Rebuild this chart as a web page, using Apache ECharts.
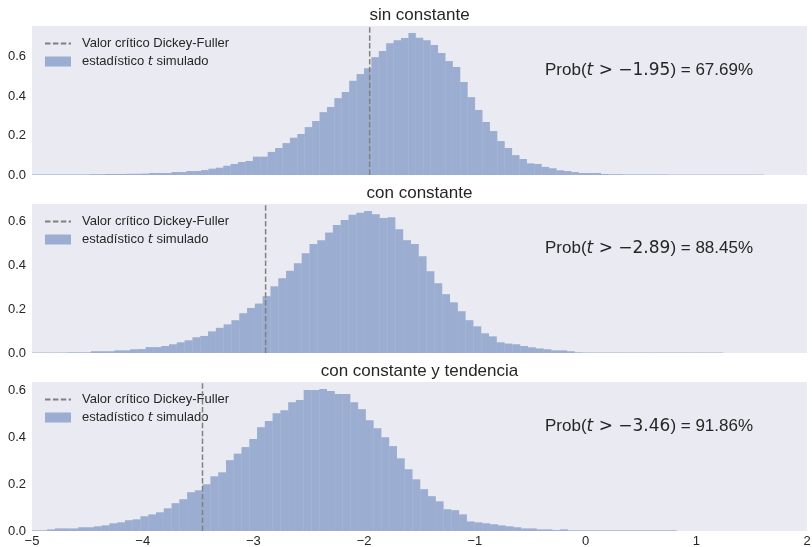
<!DOCTYPE html>
<html>
<head>
<meta charset="utf-8">
<script src="https://cdn.jsdelivr.net/npm/echarts@6.0.0/dist/echarts.min.js"></script>
<style>
  html, body { margin: 0; padding: 0; background: #fff; }
  #main { width: 812px; height: 547px; }
</style>
</head>
<body>
<div id="main"></div>
<script>
// ---- datos ----
var xTicks = [-5, -4, -3, -2, -1, 0, 1, 2];
var yTicks = [0, 0.2, 0.4, 0.6];
var titles = ["sin constante", "con constante", "con constante y tendencia"];
var criticalValues = [-1.95, -2.89, -3.46];
var probabilities = ["67.69%", "88.45%", "91.86%"];
var legendNames = ["Valor crítico Dickey-Fuller", "estadístico t simulado"];

// inicio y ancho de los bins de cada histograma
var binStart = [-5.012, -5.0315, -5.003];
var binWidth = [0.0669, 0.0705, 0.0702];

// densidades (alturas de las barras)
var densSinConstante = [
  0.003, 0.003, 0.003, 0.003, 0.003, 0.003, 0.003, 0.003, 0.004, 0.004,
  0.005, 0.005, 0.005, 0.006, 0.006, 0.007, 0.010, 0.010, 0.010, 0.015,
  0.015, 0.020, 0.020, 0.025, 0.032, 0.037, 0.047, 0.056, 0.066, 0.071,
  0.093, 0.093, 0.117, 0.137, 0.162, 0.189, 0.208, 0.243, 0.274, 0.319,
  0.345, 0.390, 0.421, 0.478, 0.512, 0.542, 0.598, 0.629, 0.669, 0.684,
  0.695, 0.720, 0.696, 0.684, 0.659, 0.619, 0.578, 0.548, 0.472, 0.395,
  0.330, 0.269, 0.223, 0.172, 0.137, 0.101, 0.081, 0.059, 0.056, 0.041,
  0.034, 0.024, 0.020, 0.015, 0.010, 0.010, 0.010, 0.005, 0.004, 0.004,
  0.003, 0.003, 0.003, 0.003, 0.003, 0.003, 0.002, 0.002, 0.002, 0.002,
  0.002, 0.002, 0.002, 0.002, 0.002, 0.002, 0.002, 0.002, 0.002
];
var densConConstante = [
  0.002, 0.002, 0.002, 0.002, 0.002, 0.003, 0.003, 0.003, 0.008, 0.008,
  0.008, 0.012, 0.012, 0.017, 0.018, 0.027, 0.027, 0.032, 0.040, 0.049,
  0.058, 0.072, 0.078, 0.099, 0.115, 0.131, 0.150, 0.182, 0.206, 0.226,
  0.260, 0.305, 0.342, 0.376, 0.411, 0.456, 0.498, 0.516, 0.551, 0.585,
  0.608, 0.632, 0.641, 0.649, 0.635, 0.617, 0.621, 0.566, 0.516, 0.498,
  0.443, 0.374, 0.319, 0.269, 0.232, 0.191, 0.150, 0.122, 0.090, 0.076,
  0.049, 0.043, 0.040, 0.032, 0.026, 0.021, 0.017, 0.012, 0.012, 0.008,
  0.003, 0.002, 0.002, 0.002, 0.002, 0.002, 0.002, 0.002, 0.002, 0.002,
  0.002, 0.002, 0.002, 0.002, 0.002, 0.002, 0.002, 0.002, 0.002
];
var densConTendencia = [
  0.003, 0.003, 0.007, 0.011, 0.011, 0.011, 0.016, 0.016, 0.020, 0.024,
  0.033, 0.037, 0.046, 0.050, 0.063, 0.071, 0.080, 0.097, 0.119, 0.136,
  0.166, 0.174, 0.200, 0.234, 0.251, 0.303, 0.331, 0.359, 0.393, 0.444,
  0.470, 0.504, 0.517, 0.551, 0.560, 0.603, 0.603, 0.607, 0.599, 0.586,
  0.586, 0.551, 0.521, 0.474, 0.440, 0.401, 0.363, 0.311, 0.264, 0.221,
  0.179, 0.149, 0.127, 0.093, 0.089, 0.071, 0.041, 0.037, 0.033, 0.029,
  0.024, 0.020, 0.016, 0.011, 0.011, 0.007, 0.007, 0.004, 0.007, 0.003,
  0.003, 0.003, 0.003, 0.003, 0.003, 0.003, 0.003, 0.003, 0.003, 0.003,
  0.003, 0.003, 0.003
];
var densities = [densSinConstante, densConConstante, densConTendencia];

// ---- estilo ----
var FONT = '"Liberation Sans", Arial, sans-serif';
var TEXT = "#262626";
var BAR = "rgba(76,114,176,0.5)";
var gridTops = [26, 204, 382];

function toBins(start, width, dens) {
  return dens.map(function (h, i) {
    return [start + i * width, start + (i + 1) * width, h];
  });
}

function minus(v) {
  return v < 0 ? "\u2212" + Math.abs(v) : String(v);
}

function renderBar(params, api) {
  var p0 = api.coord([api.value(0), 0]);
  var p1 = api.coord([api.value(1), api.value(2)]);
  var cs = params.coordSys;
  var shape = echarts.graphic.clipRectByRect(
    { x: p0[0], y: p1[1], width: p1[0] - p0[0], height: p0[1] - p1[1] },
    { x: cs.x, y: cs.y, width: cs.width, height: cs.height }
  );
  return shape && { type: "rect", shape: shape, style: { fill: BAR } };
}

var grid = [], xAxis = [], yAxis = [], series = [], legend = [], graphic = [];

titles.forEach(function (title, k) {
  // margen del 5% sobre la barra más alta, como matplotlib
  var yMax = Math.max.apply(null, densities[k]) * 1.05;
  grid.push({
    left: 32, right: 5, top: gridTops[k], height: 149,
    outerBoundsMode: "none", containLabel: false,
    show: true, backgroundColor: "#EAEAF2", borderWidth: 0
  });
  xAxis.push({
    type: "value", gridIndex: k, min: xTicks[0], max: xTicks[xTicks.length - 1], interval: 1,
    axisLine: { show: false }, axisTick: { show: false }, splitLine: { show: false },
    axisLabel: {
      show: k === 2, color: TEXT, fontSize: 13, fontFamily: FONT, margin: 4,
      formatter: minus
    }
  });
  yAxis.push({
    type: "value", gridIndex: k, min: 0, max: yMax, interval: yTicks[1] - yTicks[0],
    axisLine: { show: false }, axisTick: { show: false }, splitLine: { show: false },
    axisLabel: {
      color: TEXT, fontSize: 13, fontFamily: FONT, margin: 6, showMaxLabel: false,
      formatter: function (v) { return v.toFixed(1); }
    }
  });
  series.push({
    name: legendNames[1], type: "custom", xAxisIndex: k, yAxisIndex: k,
    renderItem: renderBar, itemStyle: { color: BAR },
    encode: { x: [0, 1], y: 2 },
    data: toBins(binStart[k], binWidth[k], densities[k]), z: 2
  });
  series.push({
    name: legendNames[0], type: "line", xAxisIndex: k, yAxisIndex: k,
    symbol: "none", silent: true,
    lineStyle: { color: "#808080", width: 1.5, type: [5.5, 2.4] },
    itemStyle: { color: "#808080" },
    data: [[criticalValues[k], 0], [criticalValues[k], yMax]], z: 5
  });
  legend.push({
    left: 44, top: gridTops[k] + 11, orient: "vertical", padding: 0,
    itemWidth: 26, itemHeight: 10, itemGap: 5, selectedMode: false,
    data: [
      { name: legendNames[0], itemStyle: { opacity: 0 } },
      { name: legendNames[1], icon: "rect" }
    ],
    textStyle: {
      color: TEXT, fontSize: 13, fontFamily: FONT, padding: [0, 0, 0, 6],
      rich: {
        n: { color: TEXT, fontSize: 13, fontFamily: FONT, lineHeight: 14 },
        i: { color: TEXT, fontSize: 13, fontFamily: "DejaVu Sans", fontStyle: "italic", lineHeight: 14 }
      }
    },
    formatter: function (name) {
      return name === legendNames[1]
        ? "{n|estadístico }{i|t}{n| simulado}"
        : "{n|" + name + "}";
    }
  });
  graphic.push({
    type: "text", x: 419.5, y: gridTops[k] - 10.5, z: 10,
    style: {
      text: title, fill: TEXT, fontSize: 17, fontFamily: FONT,
      align: "center", verticalAlign: "middle"
    }
  });
  graphic.push({
    type: "text", x: 545, y: gridTops[k] + 44.5, z: 10,
    style: {
      text: "{a|Prob(}{i|t}{m| > \u2212" + Math.abs(criticalValues[k]).toFixed(2) + "}{a|) = " + probabilities[k] + "}",
      align: "left", verticalAlign: "middle",
      rich: {
        a: { fill: TEXT, fontSize: 17, fontFamily: FONT },
        i: { fill: TEXT, fontSize: 17, fontFamily: "DejaVu Sans", fontStyle: "italic" },
        m: { fill: TEXT, fontSize: 17, fontFamily: "DejaVu Sans" }
      }
    }
  });
});

var myChart = echarts.init(document.getElementById("main"));
myChart.setOption({
  animation: false,
  grid: grid,
  xAxis: xAxis,
  yAxis: yAxis,
  legend: legend,
  graphic: graphic,
  series: series
});

window.addEventListener("resize", function () {
  myChart.resize();
});
</script>
</body>
</html>
